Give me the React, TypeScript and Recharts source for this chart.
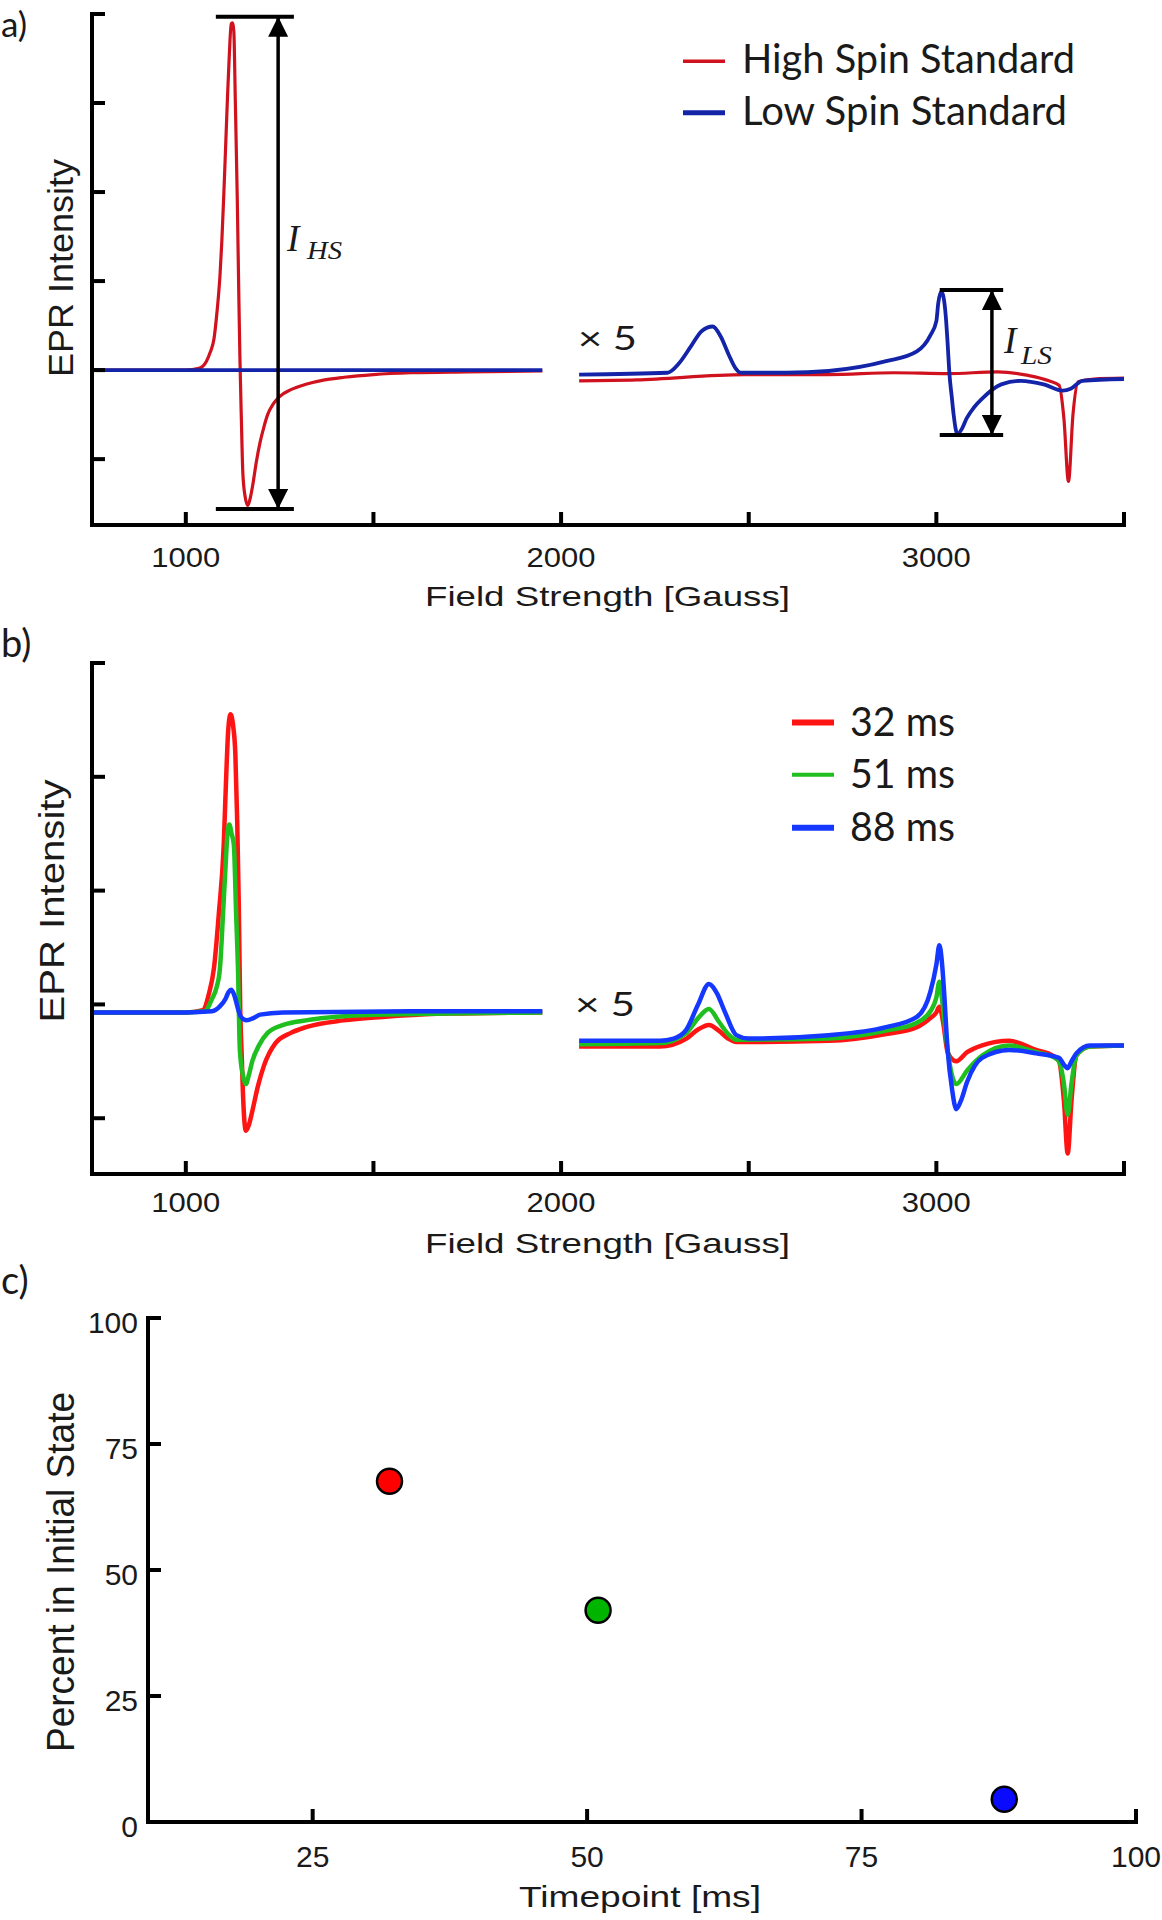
import React from "react";
import {
  LineChart,
  Line,
  XAxis,
  YAxis,
  CartesianGrid,
  ReferenceLine,
  Legend,
  ScatterChart,
  Scatter,
} from "recharts";

type Pt = [number, number | null];

// a) standards: field [Gauss], intensity in y-tick units (null = break between ranges)
const highSpinStd: Pt[] = [
  [750, 0], [1000, 0], [1035, 0.02], [1055, 0.1], [1065, 0.2], [1075, 0.35], [1083, 0.65],
  [1091, 1.06], [1096, 1.45], [1101, 1.95], [1106, 2.5], [1111, 3.06], [1116, 3.55],
  [1121, 3.89], [1125, 3.9], [1128, 3.8], [1132, 3.0], [1137, 1.95], [1141, 0.9],
  [1144, 0.17], [1148, -0.55], [1152, -1.16], [1158, -1.42], [1165, -1.52], [1171, -1.45],
  [1178, -1.3], [1188, -1.03], [1198, -0.81], [1208, -0.64], [1218, -0.5], [1233, -0.38],
  [1249, -0.3], [1280, -0.22], [1320, -0.16], [1370, -0.11], [1422, -0.08], [1500, -0.05],
  [1600, -0.03], [1750, -0.02], [1950, -0.01], [2000, null],
  [2048, -0.12], [2201, -0.11], [2488, -0.05], [2713, -0.05], [2887, -0.03], [3030, -0.04],
  [3163, -0.02], [3245, -0.06], [3300, -0.12], [3327, -0.17], [3340, -0.55], [3352, -1.25],
  [3364, -0.5], [3378, -0.13], [3420, -0.1], [3500, -0.09],
];
const lowSpinStd: Pt[] = [
  [750, 0], [1950, 0], [2000, null],
  [2048, -0.05], [2283, -0.03], [2315, 0.08], [2345, 0.26], [2375, 0.44], [2404, 0.49],
  [2425, 0.38], [2447, 0.17], [2465, 0.02], [2478, -0.03], [2600, -0.03], [2713, -0.01],
  [2866, 0.1], [2948, 0.21], [2984, 0.39], [3000, 0.55], [3005, 0.75], [3013, 0.88],
  [3019, 0.82], [3025, 0.61], [3030, 0.3], [3035, -0.05], [3041, -0.3], [3046, -0.5],
  [3056, -0.72], [3068, -0.66], [3081, -0.54], [3100, -0.42], [3122, -0.32], [3173, -0.16],
  [3225, -0.12], [3286, -0.16], [3337, -0.23], [3358, -0.21], [3389, -0.12], [3500, -0.1],
];

// b) freeze-quench samples
const trace32ms: Pt[] = [
  [750, -0.07], [1000, -0.07], [1045, -0.05], [1062, 0.1], [1075, 0.32], [1088, 0.8],
  [1101, 1.4], [1107, 1.95], [1113, 2.41], [1119, 2.55], [1126, 2.45], [1132, 2.2],
  [1137, 1.6], [1141, 0.9], [1145, -0.04], [1149, -0.45], [1152, -0.76], [1160, -1.11],
  [1168, -1.06], [1177, -0.94], [1192, -0.72], [1208, -0.54], [1239, -0.34], [1280, -0.25],
  [1320, -0.2], [1420, -0.14], [1524, -0.11], [1700, -0.08], [1950, -0.07], [2000, null],
  [2048, -0.37], [2263, -0.37], [2334, -0.3], [2365, -0.22], [2394, -0.18], [2420, -0.23],
  [2445, -0.3], [2467, -0.33], [2713, -0.32], [2866, -0.26], [2948, -0.2], [2984, -0.12],
  [3000, -0.07], [3008, -0.02], [3015, -0.1], [3020, -0.2], [3030, -0.42], [3053, -0.5],
  [3082, -0.42], [3122, -0.36], [3194, -0.32], [3266, -0.4], [3310, -0.45], [3327, -0.5],
  [3340, -0.85], [3350, -1.31], [3360, -0.85], [3373, -0.45], [3409, -0.37], [3500, -0.36],
];
const trace51ms: Pt[] = [
  [750, -0.07], [1000, -0.07], [1050, -0.06], [1070, 0.05], [1082, 0.15], [1091, 0.32],
  [1100, 0.85], [1106, 1.22], [1111, 1.5], [1116, 1.58], [1122, 1.5], [1128, 1.4],
  [1134, 0.8], [1139, 0.32], [1144, -0.4], [1152, -0.62], [1160, -0.7], [1168, -0.62],
  [1177, -0.5], [1195, -0.36], [1218, -0.25], [1260, -0.18], [1320, -0.14], [1500, -0.09],
  [1950, -0.07], [2000, null],
  [2048, -0.35], [2263, -0.34], [2334, -0.25], [2365, -0.12], [2394, -0.04], [2420, -0.15],
  [2445, -0.26], [2467, -0.31], [2713, -0.3], [2866, -0.23], [2948, -0.16], [2984, -0.06],
  [3000, 0.06], [3008, 0.2], [3015, 0.05], [3020, -0.1], [3030, -0.4], [3053, -0.7],
  [3082, -0.58], [3122, -0.45], [3194, -0.36], [3266, -0.42], [3310, -0.46], [3327, -0.5],
  [3340, -0.7], [3350, -0.97], [3360, -0.7], [3373, -0.45], [3409, -0.37], [3500, -0.36],
];
const trace88ms: Pt[] = [
  [750, -0.07], [1000, -0.07], [1070, -0.06], [1090, -0.02], [1106, 0.05], [1114, 0.11],
  [1121, 0.13], [1127, 0.1], [1132, 0.05], [1140, -0.05], [1147, -0.11], [1162, -0.14],
  [1180, -0.12], [1198, -0.09], [1259, -0.07], [1600, -0.06], [1950, -0.06], [2000, null],
  [2048, -0.32], [2263, -0.32], [2300, -0.3], [2334, -0.22], [2365, 0.0], [2394, 0.18],
  [2415, 0.1], [2437, -0.07], [2467, -0.27], [2500, -0.3], [2713, -0.27], [2866, -0.2],
  [2948, -0.11], [2984, 0.11], [3000, 0.35], [3008, 0.52], [3014, 0.4], [3020, 0.14],
  [3030, -0.4], [3042, -0.75], [3053, -0.92], [3065, -0.85], [3082, -0.68], [3122, -0.47],
  [3194, -0.4], [3266, -0.43], [3327, -0.47], [3340, -0.53], [3350, -0.56], [3360, -0.5],
  [3373, -0.43], [3409, -0.36], [3500, -0.36],
];

// c) fraction remaining
const timepoints = [32, 51, 88];
const percentInitial = [67.6, 42.0, 4.5];
const sampleNames = ["32 ms", "51 ms", "88 ms"];

const fieldTicks = [1000, 1500, 2000, 2500, 3000, 3500];
const fieldLabels = [1000, 2000, 3000];
const intensityTicksA = [-1, 0, 1, 2, 3, 4];
const intensityTicksB = [-1, 0, 1, 2, 3];
const timeTicks = [25, 50, 75, 100];
const percentTicks = [0, 25, 50, 75, 100];

// I_HS / I_LS brackets, in data units
const hsBracket = { x1: 1080, x2: 1288, arrowX: 1246, top: 3.97, bottom: -1.56 };
const lsBracket = { x1: 3009, x2: 3178, arrowX: 3148, top: 0.9, bottom: -0.73 };

const SANS = "'Liberation Sans', Arial, sans-serif";
const CALI = "Lato, 'Open Sans', sans-serif";
const MATH = "'Liberation Serif', 'DejaVu Serif', serif";
const INK = "#1a1a1a";

const A_RED = "#d0121e";
const A_BLUE = "#1424a8";
const B_COLORS = ["#ff1414", "#1fbf1f", "#1438ff"];
const C_COLORS = ["#ff0000", "#00b400", "#0a0aff"];

const AXIS = { stroke: "#000", strokeWidth: 4, strokeLinecap: "square" as const };
const TICK_LEN = 13;

const toPoints = (pairs: Pt[]) => pairs.map(([x, y]) => ({ x, y }));

// bottom-axis label only (marks come from the dashed grid below)
function bottomLabel(offset: number, size: number, labelled: (v: number) => boolean, len?: number) {
  return (props: any) => {
    const { x, y, payload } = props;
    if (!labelled(payload.value)) return <g />;
    return (
      <text x={x} y={y + offset} textAnchor="middle" fontFamily={SANS} fontSize={size}
        fill={INK} textLength={len} lengthAdjust={len ? "spacingAndGlyphs" : undefined}>
        {payload.value}
      </text>
    );
  };
}

// left-axis tick: inward mark plus optional label
function leftTick(withLabel: boolean) {
  return (props: any) => {
    const { x, y, payload } = props;
    return (
      <g>
        <line x1={x} x2={x + TICK_LEN} y1={y} y2={y} stroke="#000" strokeWidth={4} />
        {withLabel && (
          <text x={x - 10} y={y + 15} textAnchor="end" fontFamily={SANS} fontSize={30} fill={INK}>
            {payload.value}
          </text>
        )}
      </g>
    );
  };
}

// inward x-tick marks: vertical grid lines at the axis ticks, dashed so only the bottom piece shows
function xTickGrid(plotHeight: number) {
  return (
    <CartesianGrid horizontal={false} vertical stroke="#000" strokeWidth={4}
      strokeDasharray={`0 ${plotHeight - TICK_LEN} ${TICK_LEN} 0`} />
  );
}

type Row = { lineY: number; lineW: number; baseline: number; textLen: number };

function legendBox(rows: Row[], textX: number, w: number, h: number) {
  return (props: any) => {
    const items = (props.payload || []).filter((e: any) => e.type !== "none");
    return (
      <svg width={w} height={h} style={{ display: "block", overflow: "visible" }}>
        {items.map((entry: any, i: number) => (
          <g key={String(entry.value)}>
            <line x1={0} x2={42} y1={rows[i].lineY} y2={rows[i].lineY}
              stroke={entry.color} strokeWidth={rows[i].lineW} />
            <text x={textX} y={rows[i].baseline} fontFamily={CALI} fontSize={40} fill={INK}
              textLength={rows[i].textLen} lengthAdjust="spacingAndGlyphs">
              {entry.value}
            </text>
          </g>
        ))}
      </svg>
    );
  };
}

function arrowDefs(id: string) {
  return (
    <defs>
      <marker id={id} viewBox="0 0 20 20" refX={20} refY={10} markerWidth={20} markerHeight={20}
        markerUnits="userSpaceOnUse" orient="auto-start-reverse">
        <path d="M0,0 L20,10 L0,20 z" fill="#000" />
      </marker>
    </defs>
  );
}

function bracketLines(b: typeof hsBracket, marker: string, key: string) {
  return [
    <ReferenceLine key={key + "top"} segment={[{ x: b.x1, y: b.top }, { x: b.x2, y: b.top }]}
      stroke="#000" strokeWidth={4} ifOverflow="visible" />,
    <ReferenceLine key={key + "bot"} segment={[{ x: b.x1, y: b.bottom }, { x: b.x2, y: b.bottom }]}
      stroke="#000" strokeWidth={4} ifOverflow="visible" />,
    <ReferenceLine key={key + "arrow"} segment={[{ x: b.arrowX, y: b.top }, { x: b.arrowX, y: b.bottom }]}
      stroke="#000" strokeWidth={3.5} ifOverflow="visible"
      markerStart={`url(#${marker})`} markerEnd={`url(#${marker})`} />,
  ];
}

const fieldLabelled = (v: number) => fieldLabels.includes(v);

export default function App() {
  return (
    <div style={{ position: "absolute", left: 0, top: 0, width: 1162, height: 1920, background: "#fff" }}>
      {/* a) */}
      <div style={{ position: "absolute", left: 0, top: 0 }}>
        <LineChart width={1162} height={620} margin={{ top: 14, right: 38, bottom: 0, left: 0 }}>
          {arrowDefs("arrowA")}
          {xTickGrid(511)}
          <XAxis type="number" dataKey="x" domain={[750, 3500]} allowDataOverflow ticks={fieldTicks}
            interval={0} height={95} axisLine={AXIS} tickLine={false} tickSize={0} tickMargin={0}
            tick={bottomLabel(42, 28, fieldLabelled, 69)} />
          <YAxis type="number" domain={[-1.74, 4]} allowDataOverflow ticks={intensityTicksA}
            interval={0} width={92} axisLine={AXIS} tickLine={false} tickSize={0} tickMargin={0}
            tick={leftTick(false)} />
          <Line data={toPoints(highSpinStd)} dataKey="y" name="High Spin Standard" type="monotone"
            stroke={A_RED} strokeWidth={3.2} dot={false} isAnimationActive={false} />
          <Line data={toPoints(lowSpinStd)} dataKey="y" name="Low Spin Standard" type="monotone"
            stroke={A_BLUE} strokeWidth={3.8} dot={false} isAnimationActive={false} />
          {bracketLines(hsBracket, "arrowA", "hs")}
          {bracketLines(lsBracket, "arrowA", "ls")}
          <Legend layout="horizontal" verticalAlign="middle" align="center" width={420} height={130}
            wrapperStyle={{ left: 683, top: 10 }}
            content={legendBox(
              [
                { lineY: 51.3, lineW: 3.5, baseline: 63, textLen: 333 },
                { lineY: 102.7, lineW: 5, baseline: 114.6, textLen: 325 },
              ], 59, 420, 130)} />
        </LineChart>
      </div>

      {/* b) */}
      <div style={{ position: "absolute", left: 0, top: 620 }}>
        <LineChart width={1162} height={650} margin={{ top: 43, right: 38, bottom: 0, left: 0 }}>
          {xTickGrid(511)}
          <XAxis type="number" dataKey="x" domain={[750, 3500]} allowDataOverflow ticks={fieldTicks}
            interval={0} height={96} axisLine={AXIS} tickLine={false} tickSize={0} tickMargin={0}
            tick={bottomLabel(38, 27, fieldLabelled, 69)} />
          <YAxis type="number" domain={[-1.49, 3]} allowDataOverflow ticks={intensityTicksB}
            interval={0} width={92} axisLine={AXIS} tickLine={false} tickSize={0} tickMargin={0}
            tick={leftTick(false)} />
          {[trace32ms, trace51ms, trace88ms].map((t, i) => (
            <Line key={sampleNames[i]} data={toPoints(t)} dataKey="y" name={sampleNames[i]}
              type="monotone" stroke={B_COLORS[i]} strokeWidth={4.5} dot={false}
              isAnimationActive={false} />
          ))}
          <Legend layout="horizontal" verticalAlign="middle" align="center" width={200} height={180}
            wrapperStyle={{ left: 792, top: 60 }}
            content={legendBox(
              [
                { lineY: 42.4, lineW: 6, baseline: 55.5, textLen: 105 },
                { lineY: 94.7, lineW: 4, baseline: 107.8, textLen: 105 },
                { lineY: 147.8, lineW: 6, baseline: 160.8, textLen: 105 },
              ], 58, 200, 180)} />
        </LineChart>
      </div>

      {/* c) */}
      <div style={{ position: "absolute", left: 0, top: 1270 }}>
        <ScatterChart width={1162} height={650} margin={{ top: 48, right: 26, bottom: 0, left: 0 }}>
          {xTickGrid(504)}
          <XAxis type="number" dataKey="x" domain={[10, 100]} allowDataOverflow ticks={timeTicks}
            interval={0} height={98} axisLine={AXIS} tickLine={false} tickSize={0} tickMargin={0}
            tick={bottomLabel(45, 30, () => true)} />
          <YAxis type="number" dataKey="y" domain={[0, 100]} allowDataOverflow ticks={percentTicks}
            interval={0} width={148} axisLine={AXIS} tickLine={false} tickSize={0} tickMargin={0}
            tick={leftTick(true)} />
          {timepoints.map((t, i) => (
            <Scatter key={sampleNames[i]} name={sampleNames[i]} data={[{ x: t, y: percentInitial[i] }]}
              fill={C_COLORS[i]} isAnimationActive={false}
              shape={(p: any) => (
                <circle cx={p.cx} cy={p.cy} r={12.5} fill={C_COLORS[i]} stroke="#000" strokeWidth={2.5} />
              )} />
          ))}
        </ScatterChart>
      </div>

      {/* free text */}
      <svg width={1162} height={1920} style={{ position: "absolute", left: 0, top: 0, pointerEvents: "none" }}>
        <g fill={INK}>
          <text x={1} y={37} fontFamily={CALI} fontSize={35}>a)</text>
          <text x={1} y={657} fontFamily={CALI} fontSize={38}>b)</text>
          <text x={1} y={1294} fontFamily={CALI} fontSize={38}>c)</text>

          <text transform="translate(73,268) rotate(-90)" textAnchor="middle" fontFamily={SANS}
            fontSize={35} textLength={218} lengthAdjust="spacingAndGlyphs">EPR Intensity</text>
          <text x={425} y={606} fontFamily={SANS} fontSize={28} textLength={365}
            lengthAdjust="spacingAndGlyphs">Field Strength [Gauss]</text>
          <text x={578} y={350} fontFamily={CALI} fontSize={32} textLength={59}
            lengthAdjust="spacingAndGlyphs">× 5</text>
          <text x={287} y={251} fontFamily={MATH} fontStyle="italic" fontSize={37}>I</text>
          <text x={307} y={259} fontFamily={MATH} fontStyle="italic" fontSize={26} textLength={35}
            lengthAdjust="spacingAndGlyphs">HS</text>
          <text x={1004} y={353} fontFamily={MATH} fontStyle="italic" fontSize={37}>I</text>
          <text x={1021} y={364} fontFamily={MATH} fontStyle="italic" fontSize={26} textLength={31}
            lengthAdjust="spacingAndGlyphs">LS</text>

          <text transform="translate(64,901) rotate(-90)" textAnchor="middle" fontFamily={SANS}
            fontSize={35} textLength={243} lengthAdjust="spacingAndGlyphs">EPR Intensity</text>
          <text x={425} y={1253} fontFamily={SANS} fontSize={28} textLength={365}
            lengthAdjust="spacingAndGlyphs">Field Strength [Gauss]</text>
          <text x={575} y={1016} fontFamily={CALI} fontSize={32} textLength={60}
            lengthAdjust="spacingAndGlyphs">× 5</text>

          <text transform="translate(74,1572) rotate(-90)" textAnchor="middle" fontFamily={SANS}
            fontSize={38} textLength={360} lengthAdjust="spacingAndGlyphs">Percent in Initial State</text>
          <text x={519} y={1907} fontFamily={SANS} fontSize={29} textLength={242}
            lengthAdjust="spacingAndGlyphs">Timepoint [ms]</text>
        </g>
      </svg>
    </div>
  );
}
